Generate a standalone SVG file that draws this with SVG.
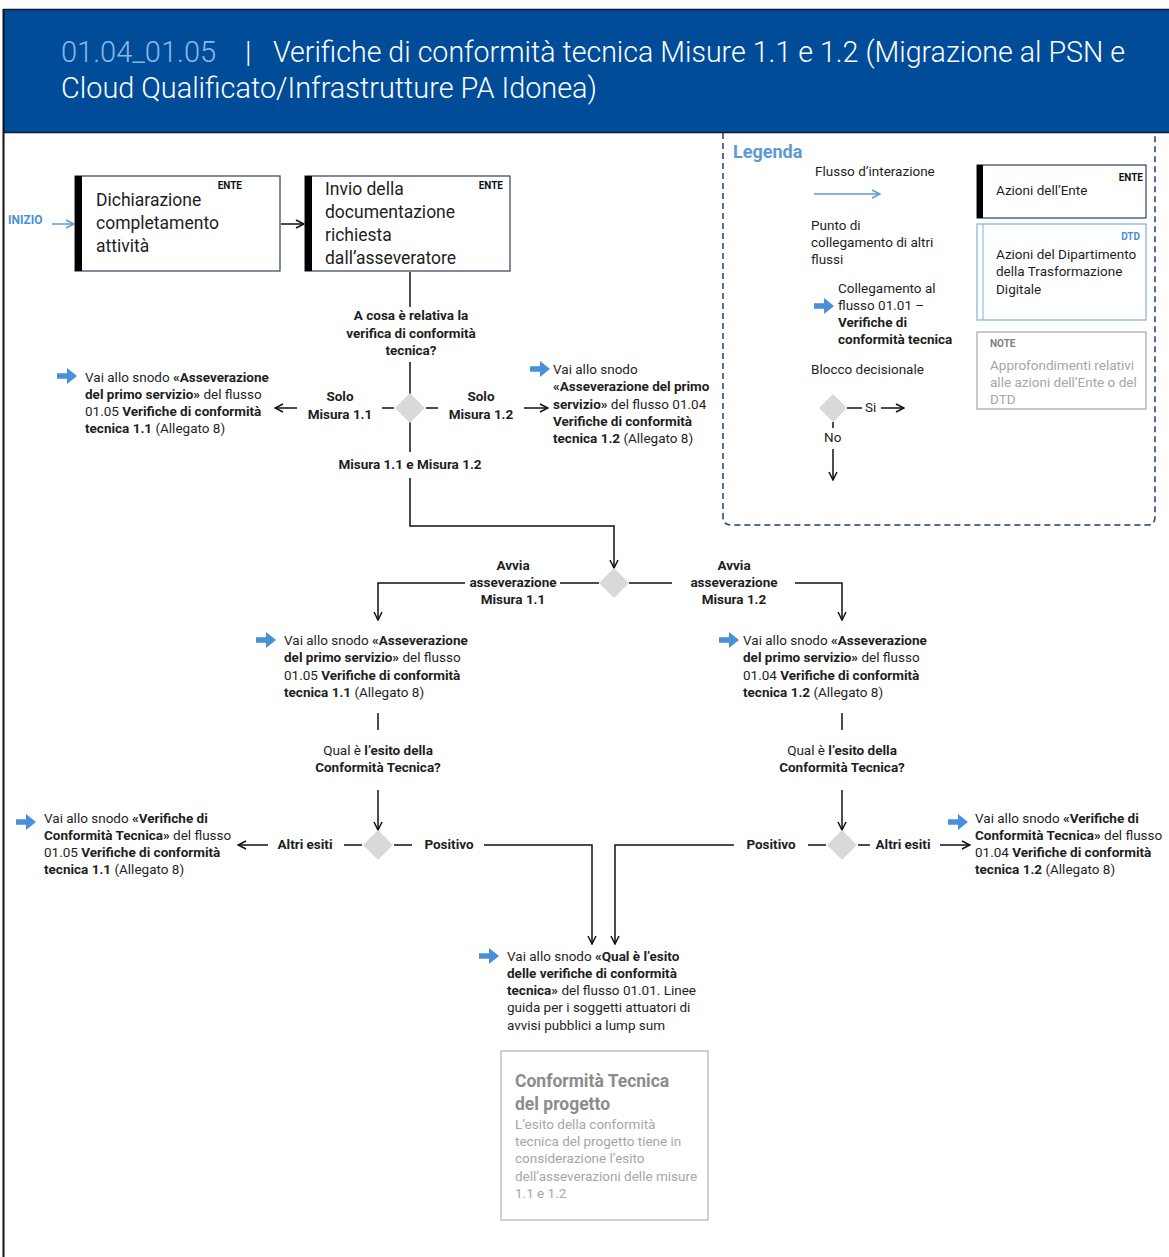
<svg xmlns="http://www.w3.org/2000/svg" width="1169" height="1257" viewBox="0 0 1169 1257">
<defs>
<style>
.t{font-family:Roboto,"Liberation Sans",sans-serif;font-size:13.5px;fill:#1e1e1e}
.b{font-weight:700}
.c{text-anchor:middle}
.e{text-anchor:end}
.nt{font-family:Roboto,"Liberation Sans",sans-serif;font-size:17.5px;fill:#1e1e1e}
.tag{font-family:Roboto,"Liberation Sans",sans-serif;font-size:10px;font-weight:700;fill:#111}
.node{fill:#fff;stroke:#2e3f5c;stroke-width:1.2}
.bar{fill:#000}
.ln{stroke:#111;stroke-width:1.5;fill:none}
.ln2{stroke:#111;stroke-width:1.5;fill:none;marker-end:url(#ah)}
.lb{stroke:#5b9bd5;stroke-width:1.5;fill:none;marker-end:url(#ahb)}
.dia{fill:#d9d9d9}
.bl{fill:#4a90d9}
.g{fill:#a6a6a6}
.h{font-family:Roboto,"Liberation Sans",sans-serif;font-size:29px;font-weight:300;fill:#fff}
</style>
<marker id="ah" viewBox="0 0 10 10" refX="9" refY="5" markerWidth="10" markerHeight="10" markerUnits="userSpaceOnUse" orient="auto"><path d="M1,1 L9,5 L1,9" fill="none" stroke="#111" stroke-width="1.5"/></marker>
<marker id="ahb" viewBox="0 0 10 10" refX="9" refY="5" markerWidth="10" markerHeight="10" markerUnits="userSpaceOnUse" orient="auto"><path d="M1,1 L9,5 L1,9" fill="none" stroke="#5b9bd5" stroke-width="1.5"/></marker>
<path id="ico" d="M0,-2.8 H10 V-8 L20,0 L10,8 V2.8 H0 Z" fill="#4a90d9"/>
<path id="dm" d="M0,-15 L15,0 L0,15 L-15,0 Z" fill="#d9d9d9"/>
</defs>

<rect width="1169" height="1257" fill="#fff"/>

<g id="header">
<rect x="3" y="9" width="1166" height="124" fill="#004c99"/>
<line x1="3" y1="9.5" x2="1169" y2="9.5" stroke="#0d1b2e" stroke-width="1.5"/>
<line x1="3" y1="132.5" x2="1169" y2="132.5" stroke="#0d1b2e" stroke-width="1.5"/>
<text class="h" x="61" y="62" style="fill:#8ab8e8">01.04_01.05</text>
<text class="h" x="245" y="62">|</text>
<text class="h" x="273" y="62" textLength="852" lengthAdjust="spacingAndGlyphs">Verifiche di conformità tecnica Misure 1.1 e 1.2 (Migrazione al PSN e</text>
<text class="h" x="61" y="98" textLength="536" lengthAdjust="spacingAndGlyphs">Cloud Qualificato/Infrastrutture PA Idonea)</text>
</g>
<line x1="3.5" y1="9" x2="3.5" y2="1257" stroke="#111" stroke-width="2"/>

<g id="legend">
<path d="M723,133 V517 Q723,525 731,525 H1147 Q1155,525 1155,517 V133" fill="none" stroke="#1f3d6e" stroke-width="1.5" stroke-dasharray="6 4"/>
<text class="t b" x="733" y="158" style="font-size:18px;fill:#5b9bd5">Legenda</text>
<text class="t" x="815" y="176">Flusso d’interazione</text>
<text class="t" x="811" y="230">Punto di</text>
<text class="t" x="811" y="247">collegamento di altri</text>
<text class="t" x="811" y="264">flussi</text>
<use href="#ico" x="814" y="306"/>
<text class="t" x="838" y="293">Collegamento al</text>
<text class="t" x="838" y="310">flusso 01.01 –</text>
<text class="t b" x="838" y="327">Verifiche di</text>
<text class="t b" x="838" y="344">conformità tecnica</text>
<text class="t" x="811" y="374">Blocco decisionale</text>
<use href="#dm" x="833" y="408" transform="translate(833 408) scale(0.93) translate(-833 -408)"/>
<text class="t" x="865" y="412">Si</text>
<text class="t" x="824" y="442">No</text>
<g id="leg-ente">
<rect class="node" x="977" y="165" width="169" height="53"/>
<rect class="bar" x="977" y="165" width="6" height="53"/>
<text class="tag e" x="1143" y="181">ENTE</text>
<text class="t" x="996" y="195">Azioni dell’Ente</text>
</g>
<g id="leg-dtd">
<rect x="977" y="224" width="169" height="96" fill="#fff" stroke="#7fb2e5" stroke-width="1.2"/>
<line x1="983" y1="224" x2="983" y2="320" stroke="#7fb2e5" stroke-width="1"/>
<text class="tag e" x="1140" y="240" style="fill:#4a90d9">DTD</text>
<text class="t" x="996" y="259">Azioni del Dipartimento</text>
<text class="t" x="996" y="276">della Trasformazione</text>
<text class="t" x="996" y="294">Digitale</text>
</g>
<g id="leg-note">
<rect x="977" y="332" width="169" height="77" fill="#fff" stroke="#a6a6a6" stroke-width="1.2"/>
<text class="tag" x="990" y="347" style="fill:#808080">NOTE</text>
<text class="t g" x="990" y="370">Approfondimenti relativi</text>
<text class="t g" x="990" y="387">alle azioni dell’Ente o del</text>
<text class="t g" x="990" y="404">DTD</text>
</g>
</g>

<g id="connectors">
<path class="lb" d="M52,224 H74"/>
<path class="ln2" d="M281,224 H304"/>
<path class="ln" d="M410,272 V307"/>
<path class="ln" d="M410,362 V394"/>
<path class="ln" d="M382,408 H394 M426,408 H438"/>
<path class="ln2" d="M297,408 H275"/>
<path class="ln2" d="M524,408 H548"/>
<path class="ln" d="M410,422 V452"/>
<path class="ln2" d="M410,478 V526 H614 V568"/>
<path class="ln" d="M560,583 H599 M629,583 H672"/>
<path class="ln2" d="M465,583 H378 V620"/>
<path class="ln2" d="M795,583 H842 V620"/>
<path class="ln" d="M378,713 V730 M842,713 V730"/>
<path class="ln2" d="M378,790 V830"/>
<path class="ln2" d="M842,790 V830"/>
<path class="ln" d="M344,845 H362 M394,845 H412"/>
<path class="ln2" d="M268,845 H238"/>
<path class="ln2" d="M484,845 H592 V944"/>
<path class="ln" d="M808,845 H826 M858,845 H870"/>
<path class="ln2" d="M734,845 H615 V944"/>
<path class="ln2" d="M940,845 H970"/>
<path class="lb" d="M814,194 H880"/>
<path class="ln" d="M847,408 H862"/>
<path class="ln2" d="M881,408 H904"/>
<path class="ln" d="M833,422 V428"/>
<path class="ln2" d="M833,449 V480"/>
</g>

<g id="inizio">
<text class="t b" x="8" y="224" style="font-size:12px;fill:#4a90d9">INIZIO</text>
</g>

<g id="n1">
<rect class="node" x="75" y="176" width="205" height="95"/>
<rect class="bar" x="75" y="176" width="7" height="95"/>
<text class="tag e" x="242" y="189">ENTE</text>
<text class="nt" x="96" y="206">Dichiarazione</text>
<text class="nt" x="96" y="229">completamento</text>
<text class="nt" x="96" y="252">attività</text>
</g>

<g id="n2">
<rect class="node" x="305" y="176" width="205" height="95"/>
<rect class="bar" x="305" y="176" width="7" height="95"/>
<text class="tag e" x="503" y="189">ENTE</text>
<text class="nt" x="325" y="195">Invio della</text>
<text class="nt" x="325" y="218">documentazione</text>
<text class="nt" x="325" y="241">richiesta</text>
<text class="nt" x="325" y="264">dall’asseveratore</text>
</g>

<g id="d1">
<text class="t b c" x="411" y="320">A cosa è relativa la</text>
<text class="t b c" x="411" y="338">verifica di conformità</text>
<text class="t b c" x="411" y="355">tecnica?</text>
<use href="#dm" x="410" y="408"/>
<text class="t b c" x="340" y="401">Solo</text>
<text class="t b c" x="340" y="419">Misura 1.1</text>
<text class="t b c" x="481" y="401">Solo</text>
<text class="t b c" x="481" y="419">Misura 1.2</text>
<text class="t b c" x="410" y="469">Misura 1.1 e Misura 1.2</text>
</g>

<g id="link-a">
<use href="#ico" x="57" y="376"/>
<text class="t" x="85" y="382">Vai allo snodo <tspan class="b">«Asseverazione</tspan></text>
<text class="t" x="85" y="399"><tspan class="b">del primo servizio»</tspan> del flusso</text>
<text class="t" x="85" y="416">01.05 <tspan class="b">Verifiche di conformità</tspan></text>
<text class="t" x="85" y="433"><tspan class="b">tecnica 1.1</tspan> (Allegato 8)</text>
</g>

<g id="link-b">
<use href="#ico" x="530" y="369"/>
<text class="t" x="553" y="374">Vai allo snodo</text>
<text class="t b" x="553" y="391">«Asseverazione del primo</text>
<text class="t" x="553" y="409"><tspan class="b">servizio»</tspan> del flusso 01.04</text>
<text class="t b" x="553" y="426">Verifiche di conformità</text>
<text class="t" x="553" y="443"><tspan class="b">tecnica 1.2</tspan> (Allegato 8)</text>
</g>

<g id="d2">
<use href="#dm" x="614" y="583"/>
<text class="t b c" x="513" y="570">Avvia</text>
<text class="t b c" x="513" y="587">asseverazione</text>
<text class="t b c" x="513" y="604">Misura 1.1</text>
<text class="t b c" x="734" y="570">Avvia</text>
<text class="t b c" x="734" y="587">asseverazione</text>
<text class="t b c" x="734" y="604">Misura 1.2</text>
</g>

<g id="link-c">
<use href="#ico" x="256" y="640"/>
<text class="t" x="284" y="645">Vai allo snodo <tspan class="b">«Asseverazione</tspan></text>
<text class="t" x="284" y="662"><tspan class="b">del primo servizio»</tspan> del flusso</text>
<text class="t" x="284" y="680">01.05 <tspan class="b">Verifiche di conformità</tspan></text>
<text class="t" x="284" y="697"><tspan class="b">tecnica 1.1</tspan> (Allegato 8)</text>
</g>

<g id="link-d">
<use href="#ico" x="719" y="640"/>
<text class="t" x="743" y="645">Vai allo snodo <tspan class="b">«Asseverazione</tspan></text>
<text class="t" x="743" y="662"><tspan class="b">del primo servizio»</tspan> del flusso</text>
<text class="t" x="743" y="680">01.04 <tspan class="b">Verifiche di conformità</tspan></text>
<text class="t" x="743" y="697"><tspan class="b">tecnica 1.2</tspan> (Allegato 8)</text>
</g>

<g id="d3">
<text class="t c" x="378" y="755">Qual è <tspan class="b">l’esito della</tspan></text>
<text class="t b c" x="378" y="772">Conformità Tecnica?</text>
<use href="#dm" x="378" y="845"/>
<text class="t b c" x="305" y="849">Altri esiti</text>
<text class="t b c" x="449" y="849">Positivo</text>
</g>

<g id="d4">
<text class="t c" x="842" y="755">Qual è <tspan class="b">l’esito della</tspan></text>
<text class="t b c" x="842" y="772">Conformità Tecnica?</text>
<use href="#dm" x="842" y="845"/>
<text class="t b c" x="771" y="849">Positivo</text>
<text class="t b c" x="903" y="849">Altri esiti</text>
</g>

<g id="link-e">
<use href="#ico" x="16" y="822"/>
<text class="t" x="44" y="823">Vai allo snodo <tspan class="b">«Verifiche di</tspan></text>
<text class="t" x="44" y="840"><tspan class="b">Conformità Tecnica»</tspan> del flusso</text>
<text class="t" x="44" y="857">01.05 <tspan class="b">Verifiche di conformità</tspan></text>
<text class="t" x="44" y="874"><tspan class="b">tecnica 1.1</tspan> (Allegato 8)</text>
</g>

<g id="link-f">
<use href="#ico" x="948" y="822"/>
<text class="t" x="975" y="823">Vai allo snodo <tspan class="b">«Verifiche di</tspan></text>
<text class="t" x="975" y="840"><tspan class="b">Conformità Tecnica»</tspan> del flusso</text>
<text class="t" x="975" y="857">01.04 <tspan class="b">Verifiche di conformità</tspan></text>
<text class="t" x="975" y="874"><tspan class="b">tecnica 1.2</tspan> (Allegato 8)</text>
</g>

<g id="link-g">
<use href="#ico" x="479" y="956"/>
<text class="t" x="507" y="961">Vai allo snodo <tspan class="b">«Qual è l’esito</tspan></text>
<text class="t b" x="507" y="978">delle verifiche di conformità</text>
<text class="t" x="507" y="995"><tspan class="b">tecnica»</tspan> del flusso 01.01. Linee</text>
<text class="t" x="507" y="1012">guida per i soggetti attuatori di</text>
<text class="t" x="507" y="1030">avvisi pubblici a lump sum</text>
</g>

<g id="note">
<rect x="501" y="1051" width="207" height="169" fill="#fff" stroke="#b3b3b3" stroke-width="1.2"/>
<text class="t b" x="515" y="1087" style="font-size:17.5px;fill:#8c8c8c">Conformità Tecnica</text>
<text class="t b" x="515" y="1110" style="font-size:17.5px;fill:#8c8c8c">del progetto</text>
<text class="t g" x="515" y="1129">L’esito della conformità</text>
<text class="t g" x="515" y="1146">tecnica del progetto tiene in</text>
<text class="t g" x="515" y="1163">considerazione l’esito</text>
<text class="t g" x="515" y="1181">dell’asseverazioni delle misure</text>
<text class="t g" x="515" y="1198">1.1 e 1.2</text>
</g>
</svg>
